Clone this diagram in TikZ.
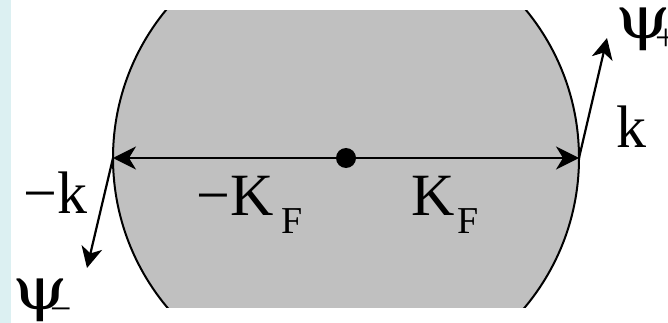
\documentclass[tikz,border=0pt]{standalone}
\usepackage{fontspec}
\usepackage{graphicx}
\setmainfont{Liberation Serif}
\newfontfamily\psifont{DejaVu Serif}
\usetikzlibrary{arrows.meta}
\definecolor{stripcol}{RGB}{220,240,242}
\definecolor{fermi}{RGB}{192,192,192}
\newcommand{\widepsi}{\scalebox{1.2}[1]{ψ}}
\tikzset{
  big/.style={inner sep=0pt,anchor=base west,font=\fontsize{60}{60}\selectfont},
  psistyle/.style={inner sep=0pt,anchor=base west,font=\psifont\fontsize{59}{59}\selectfont},
  small/.style={inner sep=0pt,anchor=base west,font=\fontsize{38}{38}\selectfont},
  vec/.style={line width=2.2pt,-{Stealth[length=21pt,width=21pt,inset=6pt]}},
  axis/.style={line width=1.6pt,-{Stealth[length=23pt,width=23pt,inset=7pt]}}
}
\begin{document}
\begin{tikzpicture}[x=1pt,y=-1pt]
\useasboundingbox (0,0) rectangle (668,323);
\fill[white] (0,0) rectangle (668,323);
\fill[stripcol] (0,0) rectangle (11,323);
\begin{scope}
  \clip (0,11) rectangle (668,307);
  \fill[fermi] (346,158) circle (233);
  \draw[line width=2pt] (346,158) circle (233);
\end{scope}
\coordinate (c) at (346,158);
\coordinate (L) at (113,158);
\coordinate (R) at (579,158);
\coordinate (pm) at (87,268);
\coordinate (pp) at (607,38);
\draw[axis] (c) -- (L);
\draw[axis] (c) -- (R);
\draw[vec] (L) -- (pm);
\draw[vec] (R) -- (pp);
\node[circle,fill=black,inner sep=0pt,minimum size=20pt] (dot) at (c) {};
\node[big] (mK) at (196,215) {−K};
\node[small] (mKF) at (281,233) {F};
\node[big] (K) at (411,215) {K};
\node[small] (KF) at (457,233) {F};
\node[big] (k) at (616,148) {k};
\node[big] (mk) at (23,213) {−k};
\node[psistyle] (psip) at (615,39) {\widepsi};
\node[small] (psipsub) at (655,51) {+};
\node[psistyle] (psim) at (12,309) {\widepsi};
\node[small] (psimsub) at (50,321) {−};
\end{tikzpicture}
\end{document}
